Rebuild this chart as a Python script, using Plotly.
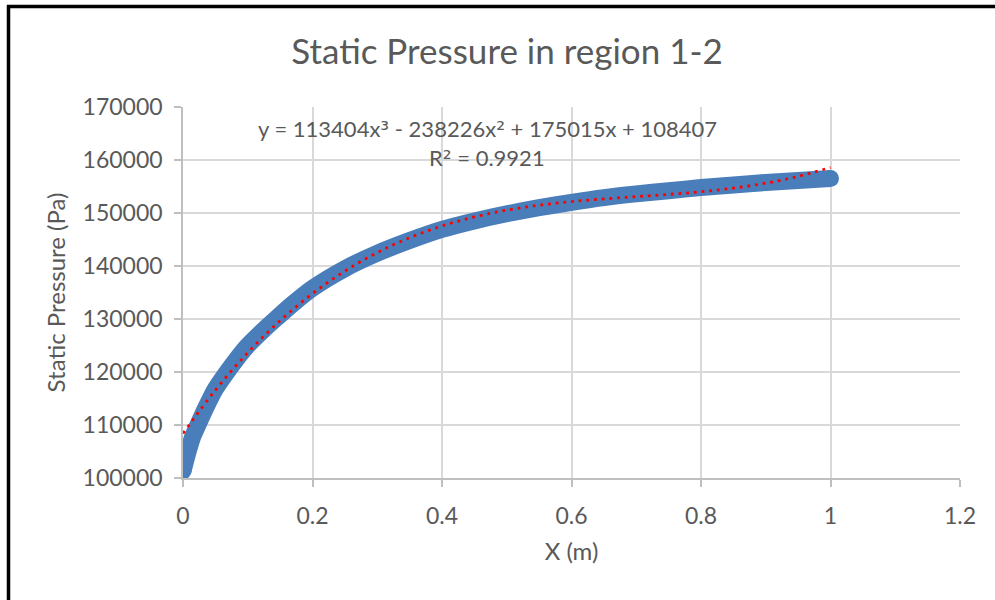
import plotly.graph_objects as go

# ---- data ----
x_data = [0.0, 0.003, 0.008, 0.015, 0.023, 0.035, 0.05, 0.068, 0.085, 0.1,
          0.125, 0.143, 0.17, 0.2, 0.25, 0.3, 0.35, 0.4, 0.45, 0.5,
          0.55, 0.6, 0.65, 0.7, 0.75, 0.8, 0.85, 0.9, 0.95, 1.0]
p_data = [101300, 102700, 105000, 107800, 110000, 113200, 116800, 120000, 122800, 125000,
          128000, 130000, 132900, 135800, 139500, 142400, 144800, 146900, 148500, 149850,
          151000, 152000, 152900, 153600, 154200, 154800, 155300, 155750, 156150, 156500]

# polynomial trendline values
x_trend = [0.0, 0.05, 0.1, 0.15, 0.2, 0.25, 0.3, 0.35, 0.4, 0.45, 0.5,
           0.55, 0.6, 0.65, 0.7, 0.75, 0.8, 0.85, 0.9, 0.95, 1.0]
p_trend = [108407, 116576, 123640, 129682, 134788, 139044, 142533, 145342, 147555, 149257, 150533,
           151470, 152150, 152660, 153084, 153509, 154017, 154696, 155629, 156902, 158600]

title_text = "Static Pressure in region 1-2"
x_title = "X (m)"
y_title = "Static Pressure (Pa)"
SUP = '<span style="font-family:DejaVu Sans">{}</span>'
eq_text = ("y = 113404x" + SUP.format("³") + " - 238226x" + SUP.format("²")
           + " + 175015x + 108407")
r2_text = "R" + SUP.format("²") + " = 0.9921"

FONT = "Lato"
GREY = "#595959"
BLUE = "#4a7ebb"
BAND = 17

fig = go.Figure()
# thick band of overlapping markers (drawn as a wide smooth line with round ends)
fig.add_trace(go.Scatter(
    x=x_data, y=p_data, mode="lines",
    line=dict(color=BLUE, width=BAND, shape="spline", smoothing=0.6),
    showlegend=False, hoverinfo="x+y"))
fig.add_trace(go.Scatter(
    x=[x_data[0], x_data[-1]], y=[p_data[0], p_data[-1]], mode="markers",
    marker=dict(color=BLUE, size=BAND, line=dict(width=0)),
    showlegend=False, hoverinfo="skip"))
fig.add_trace(go.Scatter(
    x=x_trend, y=p_trend, mode="lines",
    line=dict(color="#ff0000", width=2.8, dash="2.8px,4.9px", shape="spline"),
    showlegend=False))

L, R, T, B = 183, 35, 107, 122
W, H = 995, 600
pw, ph = W - L - R, H - T - B

def px_x(px):
    return (px - L) / pw

def px_y(py):
    return (H - B - py) / ph

fig.update_layout(
    width=W, height=H, autosize=False,
    margin=dict(l=L, r=R, t=T, b=B),
    paper_bgcolor="white", plot_bgcolor="white",
    font=dict(family=FONT, color=GREY, size=23),
    title=dict(text=title_text, font=dict(family=FONT, size=35, color=GREY),
               xref="container", x=507 / W, xanchor="center",
               yref="container", y=1 - 52 / H, yanchor="middle"),
    xaxis=dict(range=[0, 1.2], dtick=0.2, tick0=0,
               showgrid=True, gridcolor="#d9d9d9", gridwidth=1.5,
               zeroline=False, showline=True, linecolor="#bfbfbf", linewidth=1.5,
               ticks="outside", ticklen=7, tickcolor="#bfbfbf", tickwidth=1.5,
               ticklabelstandoff=10,
               tickfont=dict(family=FONT, size=23, color=GREY),
               title=dict(text=x_title, font=dict(family=FONT, size=24, color=GREY), standoff=15)),
    yaxis=dict(range=[100000, 170000], dtick=10000, tick0=100000, tickformat="d",
               showgrid=True, gridcolor="#d9d9d9", gridwidth=1.5,
               zeroline=False, showline=True, linecolor="#bfbfbf", linewidth=1.5,
               ticks="outside", ticklen=7, tickcolor="#bfbfbf", tickwidth=1.5,
               ticklabelstandoff=7,
               tickfont=dict(family=FONT, size=23, color=GREY),
               title=dict(text=y_title, font=dict(family=FONT, size=24, color=GREY), standoff=10)),
    annotations=[
        dict(text=eq_text, x=px_x(487), y=px_y(128), xref="paper", yref="paper",
             showarrow=False, xanchor="center", yanchor="middle",
             font=dict(family=FONT, size=22, color=GREY)),
        dict(text=r2_text, x=px_x(487), y=px_y(157), xref="paper", yref="paper",
             showarrow=False, xanchor="center", yanchor="middle",
             font=dict(family=FONT, size=22, color=GREY)),
    ],
    shapes=[
        dict(type="line", xref="paper", yref="paper",
             x0=px_x(8.5), x1=px_x(8.5), y0=px_y(600), y1=px_y(5),
             line=dict(color="black", width=3.5)),
        dict(type="line", xref="paper", yref="paper",
             x0=px_x(7), x1=px_x(995), y0=px_y(6.5), y1=px_y(6.5),
             line=dict(color="black", width=3.5)),
    ],
)

fig.write_html("out.html")
